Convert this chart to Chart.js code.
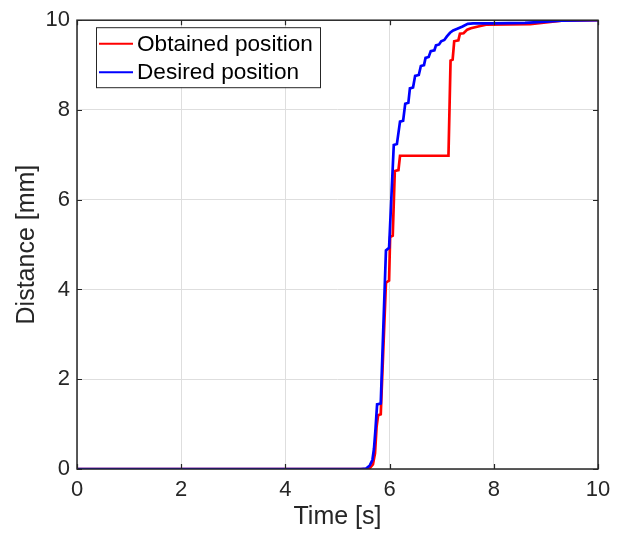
<!DOCTYPE html>
<html>
<head>
<meta charset="utf-8">
<script src="https://cdn.jsdelivr.net/npm/chart.js"></script>
<style>
  html, body { margin: 0; padding: 0; background: #fff; }
  #wrap { width: 624px; height: 535px; }
</style>
</head>
<body>
<div id="wrap"><canvas id="plot" width="624" height="535"></canvas></div>
<script>
// time [s] / distance [mm]
const obtainedT = [0, 5.55, 5.62, 5.68, 5.72, 5.75, 5.78, 5.83, 5.93, 5.99, 6.01, 6.06, 6.10, 6.17, 6.20,
    7.13, 7.17, 7.21, 7.24, 7.32, 7.35, 7.42, 7.49, 7.56, 7.70, 7.85, 8.70, 9.00, 9.30, 10];
const obtainedPos = [0, 0, 0.02, 0.1, 0.35, 0.94, 1.2, 1.22, 4.15, 4.2, 5.17, 5.2, 6.64, 6.66, 6.98,
    6.98, 9.1, 9.12, 9.53, 9.55, 9.7, 9.71, 9.79, 9.82, 9.86, 9.9, 9.91, 9.95, 9.99, 10];

const desiredT = [0, 5.45, 5.55, 5.62, 5.67, 5.70, 5.73, 5.76, 5.83, 5.93, 5.99, 6.08, 6.14, 6.20, 6.26,
    6.30, 6.36, 6.39, 6.45, 6.49, 6.56, 6.60, 6.66, 6.69, 6.75, 6.79, 6.86, 6.89, 6.95, 6.99, 7.05,
    7.10, 7.16, 7.22, 7.30, 7.40, 7.50, 7.60, 8.00, 8.60, 9.00, 9.30, 10];
const desiredPos = [0, 0, 0.01, 0.08, 0.2, 0.45, 0.9, 1.44, 1.46, 4.87, 4.93, 7.22, 7.24, 7.74, 7.76,
    8.14, 8.16, 8.48, 8.50, 8.76, 8.78, 8.98, 9.00, 9.16, 9.18, 9.31, 9.33, 9.44, 9.46, 9.53, 9.56,
    9.64, 9.72, 9.77, 9.81, 9.86, 9.92, 9.93, 9.93, 9.94, 9.97, 9.99, 10];

const seriesNames = ['Obtained position', 'Desired position'];
const seriesColors = ['#ff0000', '#0000ff'];
const xTicks = [0, 2, 4, 6, 8, 10];
const yTicks = [0, 2, 4, 6, 8, 10];

const FONT = "'Liberation Sans', Arial, Helvetica, sans-serif";
const INK = '#262626';

function toPoints(xs, ys) {
    return xs.map((x, i) => ({ x: x, y: ys[i] }));
}

// matlab style frame: box round the axes, ticks pointing inwards
const framePlugin = {
    id: 'frame',
    afterDatasetsDraw(chart) {
        const { ctx, chartArea: a, scales } = chart;
        ctx.save();
        ctx.strokeStyle = INK;
        ctx.lineWidth = 1.5;
        ctx.strokeRect(a.left, a.top, a.right - a.left, a.bottom - a.top);
        ctx.lineWidth = 1.2;
        ctx.beginPath();
        xTicks.forEach(v => {
            const px = Math.round(scales.x.getPixelForValue(v)) + 0.5;
            ctx.moveTo(px, a.bottom); ctx.lineTo(px, a.bottom - 5);
            ctx.moveTo(px, a.top); ctx.lineTo(px, a.top + 5);
        });
        yTicks.forEach(v => {
            const py = Math.round(scales.y.getPixelForValue(v)) + 0.5;
            ctx.moveTo(a.left, py); ctx.lineTo(a.left + 5, py);
            ctx.moveTo(a.right, py); ctx.lineTo(a.right - 5, py);
        });
        ctx.stroke();
        ctx.restore();
    }
};

// legend box inside the plot, top left
const legendPlugin = {
    id: 'boxLegend',
    afterDraw(chart) {
        const ctx = chart.ctx;
        const a = chart.chartArea;
        const x0 = a.left + 19, y0 = a.top + 7, w = 224, h = 60;
        ctx.save();
        ctx.fillStyle = '#fff';
        ctx.fillRect(x0, y0, w, h);
        ctx.strokeStyle = INK;
        ctx.lineWidth = 1;
        ctx.strokeRect(x0 + 0.5, y0 + 0.5, w, h);
        ctx.font = '22.6px ' + FONT;
        ctx.textBaseline = 'middle';
        chart.data.datasets.forEach((ds, i) => {
            const yy = y0 + 16.5 + i * 28.5;
            ctx.strokeStyle = ds.borderColor;
            ctx.lineWidth = 2;
            ctx.beginPath();
            ctx.moveTo(x0 + 3, yy);
            ctx.lineTo(x0 + 37, yy);
            ctx.stroke();
            ctx.fillStyle = '#000';
            ctx.fillText(ds.label, x0 + 41, yy + 1);
        });
        ctx.restore();
    }
};

const ctx = document.getElementById('plot').getContext('2d');
const chart = new Chart(ctx, {
    type: 'line',
    data: {
        datasets: [
            {
                label: seriesNames[0],
                data: toPoints(obtainedT, obtainedPos),
                borderColor: seriesColors[0],
                borderWidth: 2.7,
                pointRadius: 0,
                tension: 0,
                order: 1
            },
            {
                label: seriesNames[1],
                data: toPoints(desiredT, desiredPos),
                borderColor: seriesColors[1],
                borderWidth: 2.7,
                pointRadius: 0,
                tension: 0,
                order: 0
            }
        ]
    },
    options: {
        responsive: false,
        animation: false,
        devicePixelRatio: 1,
        layout: { padding: { top: 18, right: 26, left: 0, bottom: 0 } },
        plugins: {
            legend: { display: false },
            tooltip: { enabled: false }
        },
        scales: {
            x: {
                type: 'linear',
                min: 0,
                max: 10,
                afterFit: s => { s.height = 66; },
                afterBuildTicks: s => { s.ticks = xTicks.map(v => ({ value: v })); },
                grid: { color: '#dedede', lineWidth: 1, drawTicks: false },
                border: { display: false },
                ticks: { color: INK, padding: 8, font: { family: FONT, size: 22 }, maxRotation: 0 },
                title: {
                    display: true,
                    text: 'Time [s]',
                    color: INK,
                    font: { family: FONT, size: 25 },
                    padding: { top: 0, bottom: 3 }
                }
            },
            y: {
                min: 0,
                max: 10,
                afterFit: s => { s.width = 77; },
                afterBuildTicks: s => { s.ticks = yTicks.map(v => ({ value: v })); },
                grid: { color: '#dedede', lineWidth: 1, drawTicks: false },
                border: { display: false },
                ticks: { color: INK, padding: 7, font: { family: FONT, size: 22 } },
                title: {
                    display: true,
                    text: 'Distance [mm]',
                    color: INK,
                    font: { family: FONT, size: 25 },
                    padding: { top: 12, bottom: 0 }
                }
            }
        }
    },
    plugins: [framePlugin, legendPlugin]
});
</script>
</body>
</html>
